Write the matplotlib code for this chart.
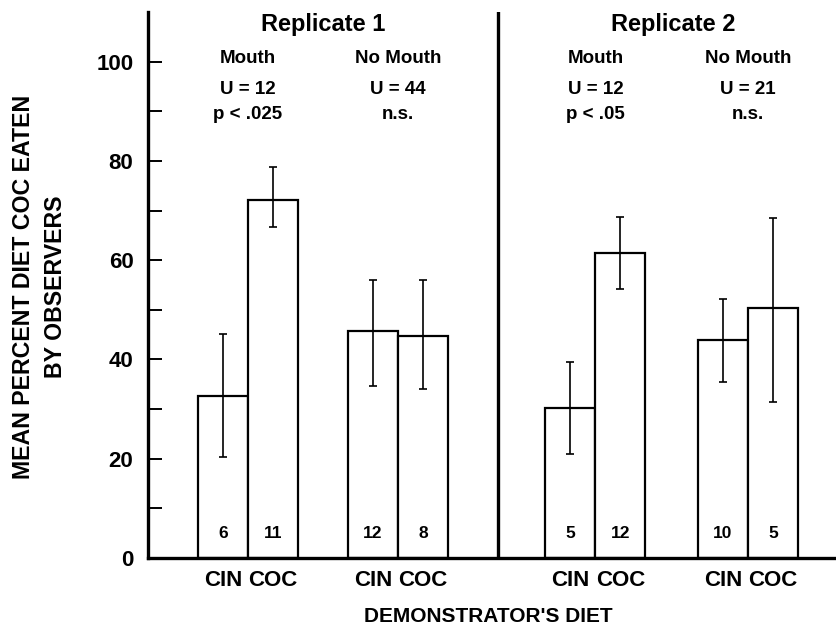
import matplotlib
matplotlib.use('Agg')
import matplotlib.pyplot as plt

# Values
bar_labels = ['CIN', 'COC', 'CIN', 'COC', 'CIN', 'COC', 'CIN', 'COC']
positions = [1.5, 2.5, 4.5, 5.5, 8.45, 9.45, 11.5, 12.5]
means = [32.6, 72.2, 45.7, 44.7, 30.3, 61.5, 43.9, 50.4]
err_low = [20.3, 66.7, 34.7, 34.0, 20.9, 54.1, 35.4, 31.5]
err_high = [45.1, 78.7, 56.1, 56.0, 39.5, 68.6, 52.1, 68.4]
n_obs = ['6', '11', '12', '8', '5', '12', '10', '5']

replicates = ['Replicate 1', 'Replicate 2']
replicate_x = [3.5, 10.5]
groups = ['Mouth', 'No Mouth', 'Mouth', 'No Mouth']
group_x = [2.0, 5.0, 8.95, 12.0]
u_stats = ['U = 12', 'U = 44', 'U = 12', 'U = 21']
p_stats = ['p < .025', 'n.s.', 'p < .05', 'n.s.']

plt.rcParams['font.family'] = ['Liberation Sans', 'DejaVu Sans']
plt.rcParams['font.weight'] = 'bold'

fig = plt.figure(figsize=(8.37, 6.33), dpi=100)
ax = fig.add_axes([148 / 837, 75 / 633, 1 - 148 / 837, 546 / 633])

ax.bar(positions, means, width=1.0, color='white', edgecolor='black', linewidth=1.6, zorder=2)
yerr = [[m - lo for m, lo in zip(means, err_low)], [hi - m for m, hi in zip(means, err_high)]]
ax.errorbar(positions, means, yerr=yerr, fmt='none', ecolor='black', elinewidth=1.2,
            capsize=3, capthick=1.2, zorder=3)

for x, n in zip(positions, n_obs):
    ax.text(x, 5, n, ha='center', va='center', fontsize=12.5, fontweight='bold')

# divider between replicates
ax.axvline(7.0, color='black', linewidth=2.4, zorder=4)

for x, t in zip(replicate_x, replicates):
    ax.text(x, 107.4, t, ha='center', va='center', fontsize=17, fontweight='bold')
for x, g, u, p in zip(group_x, groups, u_stats, p_stats):
    ax.text(x, 100.6, g, ha='center', va='center', fontsize=13.5, fontweight='bold')
    ax.text(x, 94.4, u, ha='center', va='center', fontsize=13.5, fontweight='bold')
    ax.text(x, 89.3, p, ha='center', va='center', fontsize=13.5, fontweight='bold')

ax.set_xlim(0, 13.78)
ax.set_ylim(0, 110)
ax.set_xticks(positions)
ax.set_xticklabels(bar_labels, fontsize=16, fontweight='bold')
ax.tick_params(axis='x', length=0, pad=9)
ax.set_yticks([0, 20, 40, 60, 80, 100])
ax.set_yticks([10, 30, 50, 70, 90], minor=True)
ax.set_yticklabels(['0', '20', '40', '60', '80', '100'], fontsize=16, fontweight='bold')
ax.tick_params(axis='y', which='both', direction='in', length=10, width=1.4, pad=10.5)

ax.spines['top'].set_visible(False)
ax.spines['right'].set_visible(False)
ax.spines['left'].set_linewidth(2.4)
ax.spines['bottom'].set_linewidth(2.4)

fig.text(488 / 837, 1 - 617 / 633, "DEMONSTRATOR'S DIET", ha='center', va='center',
         fontsize=15, fontweight='bold')
fig.text(40 / 837, 1 - 287 / 633, 'MEAN PERCENT DIET COC EATEN\nBY OBSERVERS',
         rotation=90, ha='center', va='center', multialignment='center',
         fontsize=16.7, fontweight='bold', linespacing=1.5)

plt.savefig('out.png', dpi=100)
